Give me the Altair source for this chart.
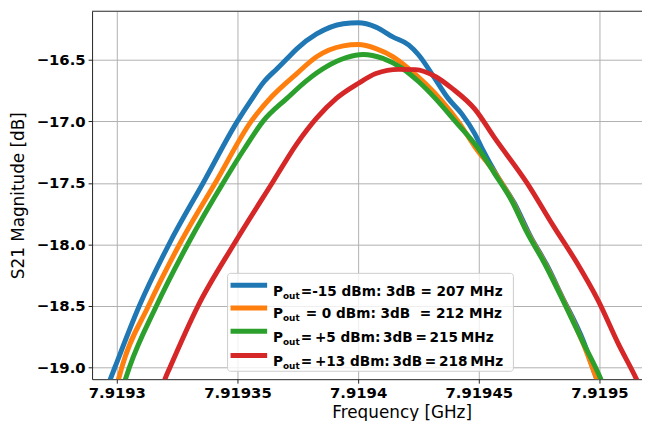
import altair as alt
import pandas as pd

# ---- data (frequency in GHz, S21 in dB) ----
blue_f = [7.91929508, 7.91929918, 7.91930930, 7.91932172, 7.91933635, 7.91935000,
          7.91935533, 7.91936107, 7.91936639, 7.91937049, 7.91937459, 7.91938279,
          7.91939385, 7.91940000, 7.91940738, 7.91941435, 7.91942090, 7.91942500,
          7.91943074, 7.91943730, 7.91944303, 7.91944836, 7.91945123, 7.91945779,
          7.91946476, 7.91947131, 7.91947828, 7.91948443, 7.91949344, 7.91949877,
          7.91950123]
blue_v = [-19.211, -19.002, -18.502, -17.995, -17.480, -16.997,
          -16.836, -16.675, -16.570, -16.490, -16.409, -16.288,
          -16.205, -16.197, -16.232, -16.312, -16.377, -16.457,
          -16.618, -16.812, -16.940, -17.101, -17.214, -17.448,
          -17.665, -17.931, -18.172, -18.422, -18.792, -19.090,
          -19.211]

orange_f = [7.91929836, 7.91930082, 7.91930205, 7.91931311, 7.91932611, 7.91934139,
            7.91935574, 7.91936434, 7.91937459, 7.91938279, 7.91939385, 7.91940000,
            7.91940738, 7.91941435, 7.91942090, 7.91942787, 7.91943484, 7.91944139,
            7.91944836, 7.91945656, 7.91946353, 7.91947008, 7.91947705, 7.91948402,
            7.91949344, 7.91949877, 7.91950123]
orange_v = [-19.211, -19.090, -19.002, -18.502, -17.995, -17.480,
            -16.997, -16.795, -16.610, -16.473, -16.385, -16.374,
            -16.407, -16.473, -16.570, -16.691, -16.836, -16.997,
            -17.206, -17.415, -17.633, -17.899, -18.140, -18.414,
            -18.816, -19.090, -19.211]

green_f = [7.91930123, 7.91930369, 7.91930520, 7.91931639, 7.91932951, 7.91934467,
           7.91935287, 7.91936066, 7.91937049, 7.91937869, 7.91938689, 7.91939508,
           7.91940205, 7.91941025, 7.91941844, 7.91942500, 7.91943197, 7.91944017,
           7.91944959, 7.91945656, 7.91946353, 7.91947008, 7.91947705, 7.91948402,
           7.91949344, 7.91950041, 7.91950287]
green_v = [-19.211, -19.090, -19.002, -18.502, -17.995, -17.480,
           -17.222, -16.997, -16.812, -16.667, -16.554, -16.481,
           -16.455, -16.487, -16.570, -16.675, -16.812, -16.997,
           -17.214, -17.424, -17.641, -17.907, -18.148, -18.422,
           -18.808, -19.090, -19.211]

red_f = [7.91931803, 7.91932008, 7.91932201, 7.91933361, 7.91934865, 7.91936504,
         7.91937459, 7.91938279, 7.91939098, 7.91940000, 7.91940738, 7.91941680,
         7.91942377, 7.91943197, 7.91943894, 7.91944836, 7.91945656, 7.91947008,
         7.91948115, 7.91949058, 7.91949959, 7.91950779, 7.91951517, 7.91951803]
red_v = [-19.211, -19.090, -19.002, -18.502, -17.995, -17.480,
         -17.182, -16.973, -16.812, -16.691, -16.610, -16.576,
         -16.578, -16.634, -16.731, -16.900, -17.134, -17.504,
         -17.858, -18.148, -18.462, -18.808, -19.090, -19.211]

series_names = ["-15 dBm", "0 dBm", "+5 dBm", "+13 dBm"]
series_colors = ["#1f77b4", "#ff7f0e", "#2ca02c", "#d62728"]
legend_rest = [
    "=-15 dBm: 3dB = 207 MHz",
    "= 0 dBm: 3dB\u00a0 = 212 MHz",
    "=\u2009+5 dBm:\u20093dB\u2009=\u2009215\u2009MHz",
    "=\u2009+13 dBm:\u20093dB\u2009=\u2009218\u2009MHz",
]

x_ticks = [7.9193, 7.91935, 7.9194, 7.91945, 7.9195]
y_ticks = [-19.0, -18.5, -18.0, -17.5, -17.0, -16.5]
x_domain = [7.91928975, 7.91951763]
y_domain = [-19.097, -16.103]

W, H = 556, 372
FONT = "DejaVu Sans"

all_f = [blue_f, orange_f, green_f, red_f]
all_v = [blue_v, orange_v, green_v, red_v]

xscale = alt.Scale(domain=x_domain, nice=False, zero=False)
yscale = alt.Scale(domain=y_domain, nice=False, zero=False)
xaxis = alt.Axis(values=x_ticks, format=".6~g", title="Frequency [GHz]",
                 titleX=313, titleY=39, titleBaseline="alphabetic",
                 labelFlush=False, labelOverlap=False)
yaxis = alt.Axis(values=y_ticks, format=".1f", title="S21 Magnitude [dB]",
                 titleX=-74, titleY=186, titleAngle=270,
                 titleAlign="center", titleBaseline="middle",
                 labelOverlap=False)

layers = []
for k, (name, col) in enumerate(zip(series_names, series_colors)):
    df = pd.DataFrame({"f": all_f[k], "v": all_v[k], "i": list(range(len(all_f[k])))})
    line = alt.Chart(df).mark_line(color=col, strokeWidth=5, clip=True,
                                   strokeJoin="round", interpolate="monotone").encode(
        x=alt.X("f:Q", scale=xscale, axis=xaxis),
        y=alt.Y("v:Q", scale=yscale, axis=yaxis),
        order="i:Q")
    layers.append(line)

one = pd.DataFrame({"a": [0]})

# top frame line (the right frame lies outside the picture)
layers.append(alt.Chart(one).mark_rule(color="#222222", strokeWidth=1).encode(
    x=alt.value(0), x2=alt.value(W), y=alt.value(0)))

# legend box
layers.append(alt.Chart(one).mark_rect(fill="white", fillOpacity=0.8, stroke="#cccccc",
                                       strokeWidth=1, cornerRadius=3).encode(
    x=alt.value(137), x2=alt.value(426), y=alt.value(265), y2=alt.value(364)))

sym_y = [277, 300, 323.5, 348]
rest_x = [211, 216, 211, 211]
for k in range(4):
    b = sym_y[k] + 10.5
    layers.append(alt.Chart(one).mark_rule(color=series_colors[k], strokeWidth=5).encode(
        x=alt.value(140), x2=alt.value(177), y=alt.value(sym_y[k])))
    layers.append(alt.Chart(one).mark_text(align="left", baseline="alphabetic", font=FONT,
                                           fontWeight="bold", fontSize=13.8, color="black").encode(
        x=alt.value(183), y=alt.value(b), text=alt.value("P")))
    layers.append(alt.Chart(one).mark_text(align="left", baseline="alphabetic", font=FONT,
                                           fontWeight="bold", fontSize=9, color="black").encode(
        x=alt.value(193), y=alt.value(b + 3), text=alt.value("out")))
    layers.append(alt.Chart(one).mark_text(align="left", baseline="alphabetic", font=FONT,
                                           fontWeight="bold", fontSize=13.8, color="black").encode(
        x=alt.value(rest_x[k]), y=alt.value(b), text=alt.value(legend_rest[k])))

chart = alt.layer(*layers).properties(
    width=W, height=H,
    autosize=alt.AutoSizeParams(type="none"),
    padding={"left": 85, "top": 1, "right": 0, "bottom": 40},
).configure_view(stroke=None).configure_axis(
    labelFont=FONT, labelFontWeight="bold", labelFontSize=15, labelColor="black",
    titleFont=FONT, titleFontSize=17, titleFontWeight="normal", titleColor="black",
    gridColor="#b0b0b0", gridWidth=1, domainColor="#222222", domainWidth=1,
    tickColor="#222222", tickSize=4, labelPadding=3,
)

chart.save("out.html", embed_options={"renderer": "svg", "actions": False})
